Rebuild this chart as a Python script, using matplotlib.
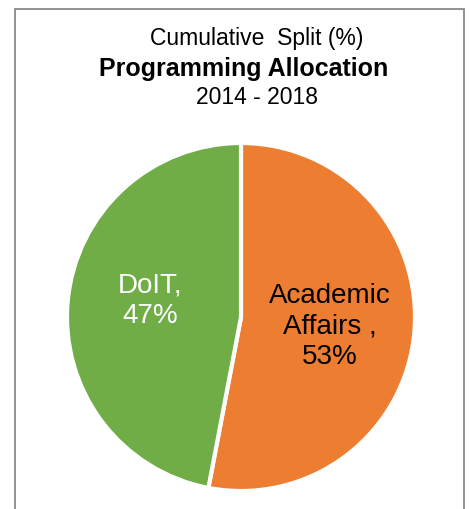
import matplotlib.pyplot as plt
from matplotlib.patches import Rectangle

plt.rcParams['font.family'] = ['Liberation Sans', 'DejaVu Sans']

labels = ['Academic\nAffairs ,', 'DoIT,']
values = [53, 47]
colors = ['#ED7D31', '#70AD47']
label_colors = ['black', 'white']

fig = plt.figure(figsize=(4.7, 5.1), dpi=100)

# chart border
fig.patches.append(Rectangle((15 / 470, -0.1), 449 / 470, 1.1 - 10 / 510, transform=fig.transFigure,
                             fill=False, edgecolor='#7f7f7f', linewidth=1.2))

fig.text(257 / 470, 1 - 39 / 510, 'Cumulative  Split (%)', ha='center', va='center', fontsize=16.5)
fig.text(244 / 470, 1 - 69 / 510, 'Programming Allocation', ha='center', va='center', fontsize=18, fontweight='bold')
fig.text(257 / 470, 1 - 97 / 510, '2014 - 2018', ha='center', va='center', fontsize=16.5)

r = 174
cx, cy = 241, 318
ax = fig.add_axes([(cx - r) / 470, 1 - (cy + r) / 510, 2 * r / 470, 2 * r / 510])
wedges, texts = ax.pie(values, colors=colors, startangle=90, counterclock=False,
                       wedgeprops=dict(edgecolor='white', linewidth=3))
ax.set_xlim(-1, 1)
ax.set_ylim(-1, 1)

pos = [(0.51, -0.05), (-0.52, 0.10)]
for i in range(len(values)):
    ax.text(pos[i][0], pos[i][1], f'{labels[i]}\n{values[i]}%', ha='center', va='center',
            fontsize=20, color=label_colors[i], linespacing=1.22)

fig.savefig('out.png', dpi=100)
